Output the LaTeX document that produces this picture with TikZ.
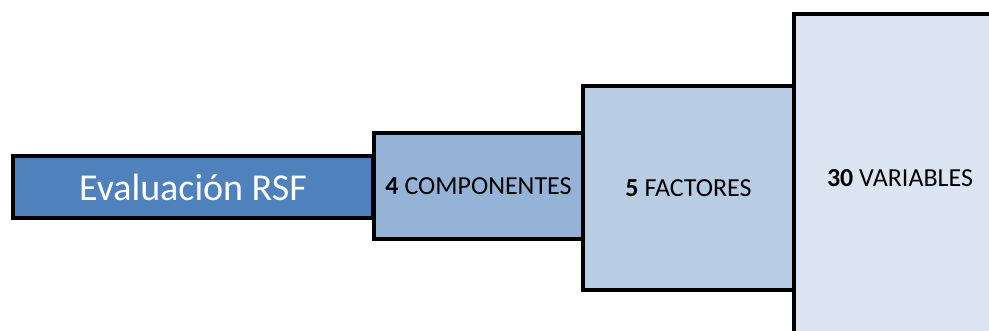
\documentclass[tikz,border=0pt]{standalone}
\usepackage{fontspec}
\setmainfont{Carlito}
\definecolor{cA}{HTML}{4F81BD}
\definecolor{cB}{HTML}{95B3D7}
\definecolor{cC}{HTML}{B8CCE4}
\definecolor{cD}{HTML}{DBE5F1}
\begin{document}
\begin{tikzpicture}[x=1pt,y=-1pt,
  box/.style={draw=black, line width=4pt, inner sep=0pt, text=black,
    font=\fontsize{26}{30}\selectfont}]
\useasboundingbox (0,0) rectangle (989,331);
\clip (0,0) rectangle (989,331);
\node[box, fill=cA, minimum width=360pt, minimum height=62pt, text=white,
  font=\fontsize{38}{44}\selectfont] (eval) at (193,187) {Evaluación RSF};
\node[box, fill=cB, minimum width=210pt, minimum height=106pt] (comp) at (478.5,186.5) {\textbf{4} COMPONENTES};
\node[box, fill=cC, minimum width=211pt, minimum height=204pt] (fact) at (688.5,188) {\textbf{5} FACTORES};
\node[box, fill=cD, minimum width=212pt, minimum height=328pt] (vars) at (900,178.5) {\textbf{30} VARIABLES};
\end{tikzpicture}
\end{document}
